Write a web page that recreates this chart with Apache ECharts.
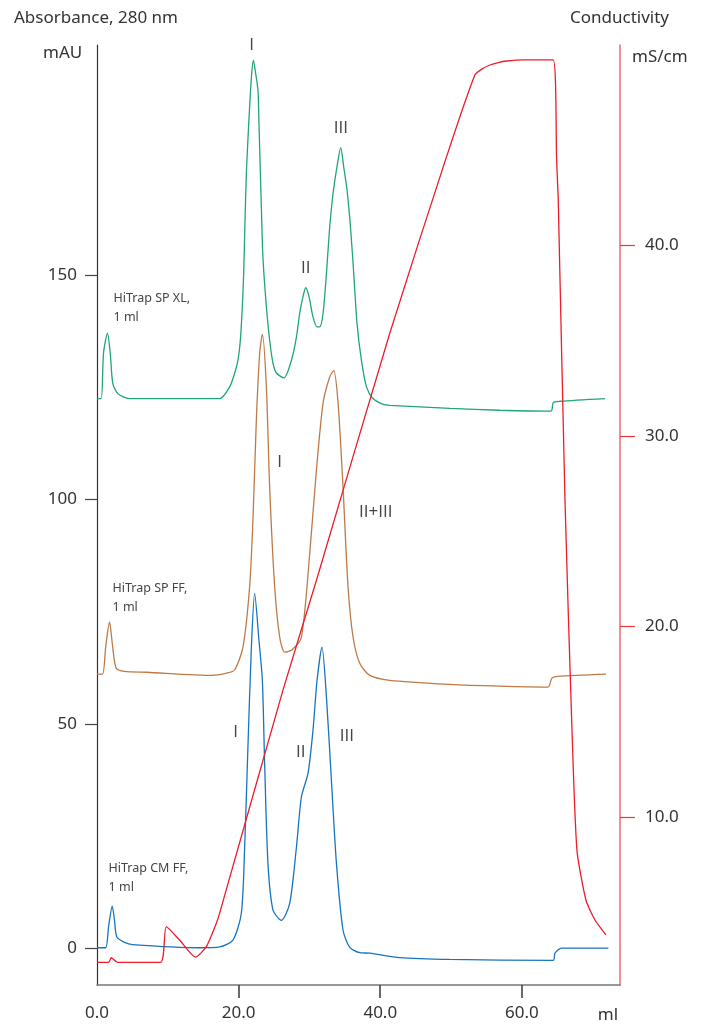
<!DOCTYPE html>
<html>
<head>
<meta charset="utf-8">
<script src="https://cdn.jsdelivr.net/npm/echarts@6/dist/echarts.min.js"></script>
<style>
html,body{margin:0;padding:0;background:#fff;}
#chart{width:705px;height:1024px;}
</style>
</head>
<body>
<div id="chart"></div>
<script>
// ---- Data (ml vs mAU / mS/cm) ----
const xTicks = [0, 20, 40, 60];
const xTickMarks = [20, 40, 60];
const leftTicks = [0, 50, 100, 150];
const rightTicks = [10, 20, 30, 40];

// HiTrap SP XL (green)
const greenX = [0, 0.59, 0.92, 1.48, 1.87, 2.23, 2.94, 4.59, 17.31, 18.73, 19.43, 19.90, 20.24, 20.52, 20.71, 20.89, 21.09, 21.31, 21.55, 21.84, 22.08, 22.40, 22.73, 22.87, 23.07, 23.21, 23.43, 23.92, 24.38, 24.85, 25.33, 26.40, 27.45, 28.16, 28.62, 29.09, 29.47, 29.94, 30.50, 31.07, 31.45, 31.92, 32.40, 32.86, 33.33, 33.81, 34.42, 34.84, 35.31, 35.79, 36.25, 36.72, 37.34, 38.05, 38.98, 40.40, 41.34, 49.82, 56.89, 64.10, 64.42, 65.37, 71.73];
const greenY = [122.5, 122.5, 132.6, 137.1, 132.6, 125.9, 123.6, 122.5, 122.5, 125.1, 128.1, 131.0, 135.5, 142.9, 150.4, 161.5, 172.7, 180.2, 187.5, 194.9, 197.9, 195.0, 191.2, 183.9, 172.7, 165.1, 154.0, 142.9, 135.5, 130.4, 128.2, 127.1, 131.0, 136.2, 141.5, 145.2, 147.2, 145.2, 140.7, 138.5, 138.5, 141.5, 150.4, 160.8, 168.2, 173.4, 178.4, 174.1, 168.9, 160.8, 150.4, 139.2, 131.0, 125.1, 122.5, 121.2, 121.0, 120.3, 119.9, 119.7, 121.6, 121.9, 122.5];

// HiTrap SP FF (brown)
const brownX = [0, 0.78, 1.25, 1.77, 2.19, 2.71, 3.89, 7.0, 16.3, 18.3, 19.43, 20.61, 21.55, 22.02, 22.50, 22.97, 23.35, 23.92, 24.38, 25.09, 25.80, 26.50, 27.45, 28.86, 30.04, 30.98, 31.92, 32.86, 33.43, 34.04, 34.74, 35.45, 36.16, 37.10, 38.52, 41.34, 49.82, 56.89, 63.67, 64.24, 65.10, 71.87];
const brownY = [61.1, 61.1, 67.5, 72.7, 67.5, 62.4, 61.7, 61.5, 60.8, 61.3, 62.0, 67.1, 80.5, 95.4, 117.7, 132.6, 136.8, 125.0, 102.7, 80.5, 69.3, 66.0, 66.4, 69.3, 88.0, 106.5, 121.5, 127.3, 128.8, 121.5, 102.7, 80.5, 69.3, 63.5, 60.8, 59.7, 58.8, 58.4, 58.2, 60.2, 60.6, 61.1];

// HiTrap CM FF (blue)
const blueX = [0, 1.20, 1.65, 2.15, 2.47, 2.80, 3.89, 5.02, 14.49, 17.31, 19.19, 20.38, 20.85, 21.31, 21.80, 22.26, 22.87, 23.35, 23.67, 24.14, 24.85, 26.04, 27.21, 28.16, 28.86, 29.80, 30.50, 31.07, 31.77, 32.40, 33.10, 33.81, 34.74, 35.69, 37.10, 38.52, 42.76, 49.82, 64.42, 64.66, 65.61, 72.20];
const blueY = [0.1, 0.1, 5.0, 9.4, 6.2, 2.5, 1.3, 0.8, 0.1, 0.3, 1.8, 7.8, 22.5, 44.8, 67.1, 79.1, 68.6, 59.7, 41.2, 18.9, 8.5, 6.2, 10.0, 22.5, 33.7, 39.0, 48.6, 59.7, 67.1, 55.9, 37.4, 18.9, 4.0, 0.2, -1.0, -1.1, -2.1, -2.5, -2.7, -1.1, 0.0, 0.0];

// Conductivity (red), mS/cm
const redX = [0, 1.67, 2.0, 2.93, 8.98, 9.78, 11.66, 13.92, 15.43, 16.85, 17.31, 26.26, 31.0, 41.34, 49.36, 53.36, 54.53, 55.48, 56.65, 57.84, 60.18, 64.42, 64.90, 65.13, 66.08, 67.07, 67.77, 69.04, 70.32, 71.87];
const redY = [2.37, 2.37, 2.61, 2.37, 2.37, 4.24, 3.54, 2.64, 3.19, 4.42, 4.94, 16.66, 22.44, 35.39, 44.66, 48.95, 49.30, 49.47, 49.60, 49.68, 49.74, 49.74, 44.49, 42.39, 26.64, 14.57, 8.26, 5.64, 4.59, 3.81];

// Annotations [x ml, y mAU, text]
const annotations = [
  [21.84, 201.2, 'I'],
  [34.42, 182.7, 'III'],
  [29.47, 151.5, 'II'],
  [25.80, 108.3, 'I'],
  [39.36, 97.2, 'II+III'],
  [19.58, 48.1, 'I'],
  [28.76, 43.7, 'II'],
  [35.27, 47.2, 'III']
];
const columnLabels = [
  [2.33, 142.6, 'HiTrap SP XL,\n1 ml'],
  [2.19, 78.0, 'HiTrap SP FF,\n1 ml'],
  [1.63, 15.6, 'HiTrap CM FF,\n1 ml']
];

const zip = (xs, ys) => xs.map((x, i) => [x, ys[i]]);
const FONT = 'Noto Sans';
const NUMFONT = 'Open Sans';
const TXT = '#333';

const chart = echarts.init(document.getElementById('chart'));
const option = {
  animation: false,
  backgroundColor: '#fff',
  grid: {left: 97, right: 85, top: 45, bottom: 39, containLabel: false},
  xAxis: {
    type: 'value', min: 0, max: 73.85, interval: 20,
    splitLine: {show: false},
    axisLine: {show: true, onZero: false, lineStyle: {color: '#777', width: 1.5}},
    axisTick: {show: false},
    axisLabel: {showMaxLabel: false, formatter: v => (xTicks.indexOf(v) >= 0 ? v.toFixed(1) : ''), margin: 20, color: TXT, fontSize: 17, fontFamily: FONT}
  },
  yAxis: [{
    type: 'value', min: -8.2, max: 201.3,
    splitLine: {show: false},
    axisLine: {show: true, onZero: false, lineStyle: {color: '#333', width: 1.2}},
    axisTick: {show: true, customValues: leftTicks, length: 12, lineStyle: {color: '#444', width: 1.2}},
    axisLabel: {customValues: leftTicks, margin: 20, color: TXT, fontSize: 17, fontFamily: FONT}
  }, {
    type: 'value', min: 1.18, max: 50.52, position: 'right',
    splitLine: {show: false},
    axisLine: {show: true, onZero: false, lineStyle: {color: '#f06a6a', width: 1.5}},
    axisTick: {show: true, customValues: rightTicks, length: 15, lineStyle: {color: '#e83a3a', width: 1.2}},
    axisLabel: {customValues: rightTicks, formatter: v => v.toFixed(1), margin: 25, color: TXT, fontSize: 17, fontFamily: FONT}
  }],
  series: [
    {name: 'SP XL', type: 'line', data: zip(greenX, greenY), showSymbol: false, smooth: 0.25, lineStyle: {color: '#1ea673', width: 1.3}},
    {name: 'SP FF', type: 'line', data: zip(brownX, brownY), showSymbol: false, smooth: 0.25, lineStyle: {color: '#bd7a48', width: 1.3}},
    {name: 'CM FF', type: 'line', data: zip(blueX, blueY), showSymbol: false, smooth: 0.25, lineStyle: {color: '#1775c0', width: 1.3}},
    {name: 'Conductivity', type: 'line', yAxisIndex: 1, data: zip(redX, redY), showSymbol: false, smooth: 0.2, lineStyle: {color: '#ec1c2a', width: 1.3}}
  ]
};
chart.setOption(option);

function txt(x, y, text, size, opts) {
  return {type: 'text', x: x, y: y, style: Object.assign({text: text, fill: TXT, fontSize: size, fontFamily: FONT}, opts || {})};
}
const graphics = [
  txt(14, 18, 'Absorbance, 280 nm', 17, {verticalAlign: 'middle'}),
  txt(43, 53, 'mAU', 17, {verticalAlign: 'middle'}),
  txt(570, 18, 'Conductivity', 17, {verticalAlign: 'middle'}),
  txt(632, 57, 'mS/cm', 17, {verticalAlign: 'middle'}),
  txt(608, 1015, 'ml', 17, {align: 'center', verticalAlign: 'middle'})
];
// x-axis tick marks, placed through the axis scale
const gridRect = chart.getModel().getComponent('grid', 0).coordinateSystem.getRect();
const axisY = gridRect.y + gridRect.height;
xTickMarks.forEach(v => {
  const px = Math.round(chart.convertToPixel({xAxisIndex: 0}, v));
  graphics.push({type: 'line', z: 100, shape: {x1: px, y1: axisY, x2: px, y2: axisY + 13}, style: {stroke: '#444', lineWidth: 1.6}});
});
annotations.forEach(a => {
  const p = chart.convertToPixel({xAxisIndex: 0, yAxisIndex: 0}, [a[0], a[1]]);
  graphics.push(txt(p[0], p[1], a[2], 17, {fill: '#444', fontFamily: NUMFONT, align: 'center', verticalAlign: 'middle'}));
});
columnLabels.forEach(a => {
  const p = chart.convertToPixel({xAxisIndex: 0, yAxisIndex: 0}, [a[0], a[1]]);
  graphics.push(txt(p[0], p[1], a[2], 12.5, {fill: '#444', lineHeight: 19, align: 'left', verticalAlign: 'middle'}));
});
chart.setOption({graphic: graphics});
</script>
</body>
</html>
